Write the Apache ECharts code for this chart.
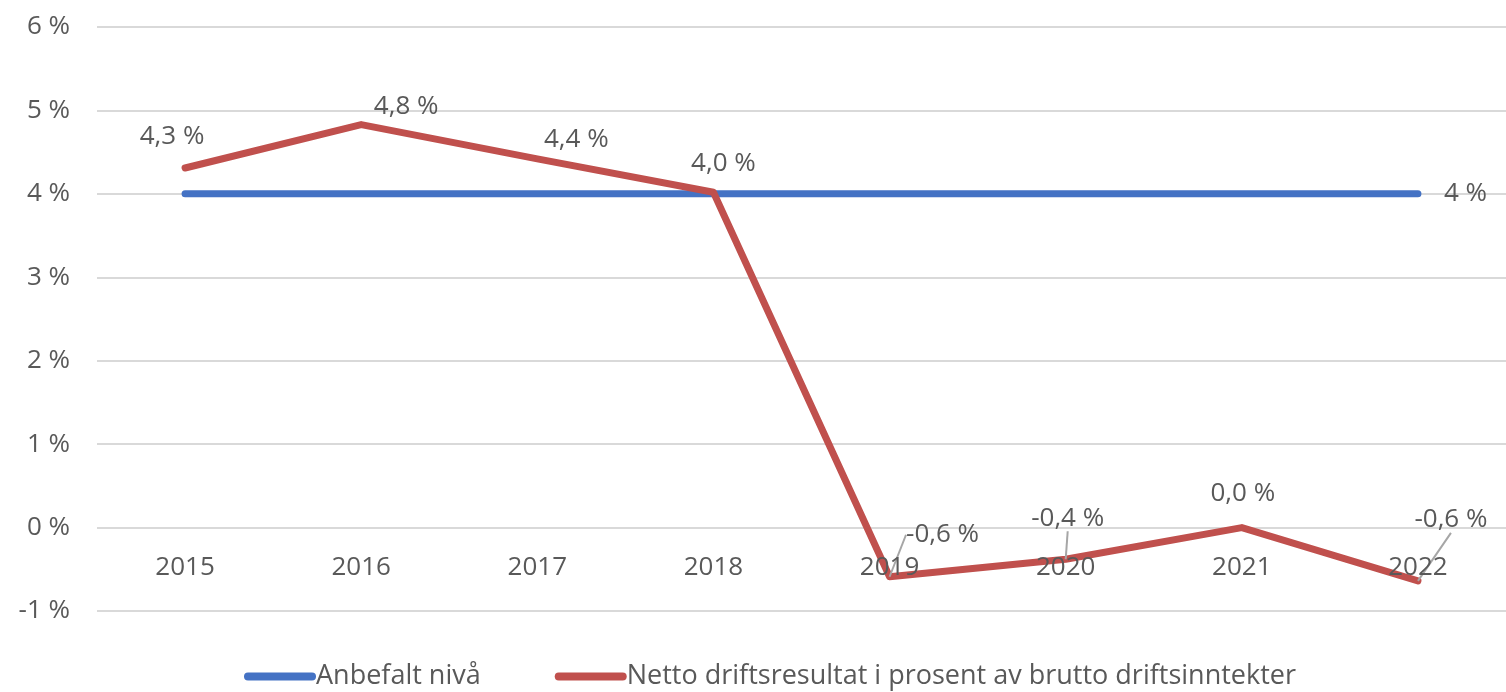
<!DOCTYPE html>
<html>
<head>
<meta charset="utf-8">
<script src="https://cdn.jsdelivr.net/npm/echarts@6/dist/echarts.min.js"></script>
<style>
  html, body { margin: 0; padding: 0; background: #fff; }
  #chart { width: 1506px; height: 692px; }
</style>
</head>
<body>
<div id="chart"></div>
<script>
// data
const years = ['2015', '2016', '2017', '2018', '2019', '2020', '2021', '2022'];
const anbefalt = [4, 4, 4, 4, 4, 4, 4, 4];
const netto = [4.31, 4.83, 4.42, 4.02, -0.59, -0.38, 0.0, -0.64];
const yTicks = { min: -1, max: 6, step: 1 };

// label nudges (px) for the red series, and which ones get a leader line
const labelShift = [[-13, -13], [45, 0], [39, -1], [10, -11], [53, -24], [2, -23], [1, -16], [33, -43]];
const withLeader = [false, false, false, false, true, true, false, true];

const FONT = '"Open Sans", Roboto, sans-serif';
const TEXT = '#595959';
const fmt = (v) => v.toFixed(1).replace('.', ',') + ' %';
const capsule = 'path://M4,0 L68,0 A4,4 0 0 1 68,8 L4,8 A4,4 0 0 1 4,0 Z';

const gridTop = 27;
const gridHeight = 584;
// category labels sit on the zero line, like the source chart
const zeroOffset = -(0 - yTicks.min) / (yTicks.max - yTicks.min) * gridHeight;

const chart = echarts.init(document.getElementById('chart'));

const nettoData = netto.map((v, i) => ({
  value: v,
  labelLine: { show: withLeader[i], lineStyle: { color: '#a6a6a6', width: 2 } },
}));

chart.setOption({
  animation: false,
  grid: { left: 97, width: 1413, top: gridTop, height: gridHeight, containLabel: false },
  legend: {
    left: 239,
    top: 658,
    itemWidth: 72,
    itemHeight: 8,
    itemGap: 74,
    textStyle: { color: TEXT, fontSize: 27, fontFamily: FONT, padding: [0, 0, 0, -5] },
    data: [
      { name: 'Anbefalt nivå', icon: capsule },
      { name: 'Netto driftsresultat i prosent av brutto driftsinntekter', icon: capsule },
    ],
  },
  xAxis: {
    type: 'category',
    data: years,
    boundaryGap: true,
    offset: zeroOffset,
    z: 5,
    axisLine: { show: false, onZero: false },
    axisTick: { show: false },
    axisLabel: { color: TEXT, fontSize: 26, fontFamily: FONT, margin: 27 },
  },
  yAxis: {
    type: 'value',
    min: yTicks.min,
    max: yTicks.max,
    interval: yTicks.step,
    axisLine: { show: false },
    axisTick: { show: false },
    axisLabel: {
      color: TEXT,
      fontSize: 26,
      fontFamily: FONT,
      margin: 27,
      formatter: (v) => v + ' %',
    },
    splitLine: { lineStyle: { color: '#d9d9d9', width: 2 } },
  },
  series: [
    {
      name: 'Anbefalt nivå',
      type: 'line',
      data: anbefalt,
      showSymbol: false,
      color: '#4472c4',
      lineStyle: { width: 7, cap: 'round' },
      endLabel: {
        show: true,
        distance: 26,
        color: TEXT,
        fontSize: 26,
        fontFamily: FONT,
        formatter: (p) => p.value + ' %',
      },
      z: 2,
    },
    {
      name: 'Netto driftsresultat i prosent av brutto driftsinntekter',
      type: 'line',
      data: nettoData,
      symbol: 'circle',
      symbolSize: 0.1,
      showSymbol: true,
      color: '#c0504d',
      lineStyle: { width: 7, cap: 'round', join: 'round' },
      label: {
        show: true,
        position: 'top',
        color: TEXT,
        fontSize: 26,
        fontFamily: FONT,
        formatter: (p) => fmt(p.value),
      },
      labelLayout: (p) => ({ dx: labelShift[p.dataIndex][0], dy: labelShift[p.dataIndex][1] }),
      z: 3,
    },
  ],
});
</script>
</body>
</html>
